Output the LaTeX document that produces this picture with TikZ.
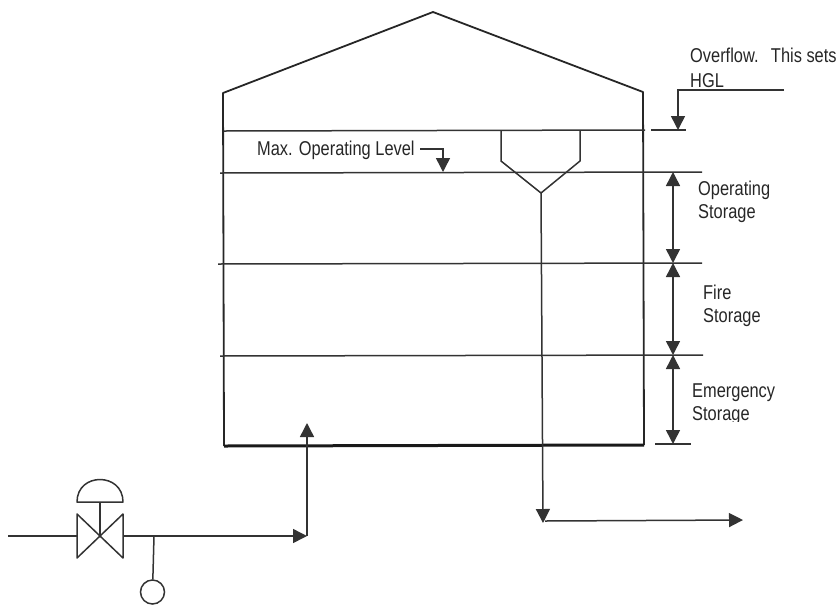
\documentclass[tikz,border=0pt]{standalone}
\usepackage{fontspec}
\usepackage{tikz}
\usetikzlibrary{arrows.meta, positioning, calc}
\setmainfont[FakeStretch=0.82]{Liberation Sans}

\begin{document}
\begin{tikzpicture}[x=1pt, y=-1pt,
    pipe/.style={line width=1.5pt, black!80},
    flow/.style={pipe, -{Triangle[length=14pt, width=14pt]}},
    dimline/.style={pipe, {Triangle[length=14pt, width=14pt]}-{Triangle[length=14pt, width=14pt]}},
    lab/.style={anchor=base west, inner sep=0pt, align=left, text=black!85, font=\fontsize{20}{20}\selectfont}]
    \useasboundingbox (0,0) rectangle (838,606);

    % Tank outline
    \draw[line width=1.8pt, black!85, line join=round] (224,446) -- (223,93) -- (433,12) -- (643,92) -- (644,445);
    \draw[line width=3pt, black!90] (224,446) -- (644,445);

    % Level lines
    \coordinate (ovfl) at (678,130);
    \coordinate (maxlvl) at (673,172);
    \coordinate (firelvl) at (673,263);
    \coordinate (emerlvl) at (673,355);
    \coordinate (botlvl) at (673,444);
    \draw[pipe] (224,131) -- (645,130);
    \draw[pipe] (651,130) -- (686,130);
    \draw[pipe] (220,173) -- (702,172);
    \draw[pipe] (218,264) -- (702,263);
    \draw[pipe] (220,356) -- (703,355);
    \draw[pipe] (655,444) -- (691,444);

    % Storage arrows
    \draw[dimline] (maxlvl) -- (firelvl);
    \draw[dimline] (firelvl) -- (emerlvl);
    \draw[dimline] (emerlvl) -- (botlvl);

    % Overflow marker
    \coordinate (ovflstart) at (784,90);
    \draw[flow] (ovflstart) -- (678,90) -- (ovfl);

    % Max level marker
    \coordinate (maxstart) at (420,149);
    \coordinate (maxend) at (443,172);
    \draw[flow] (maxstart) -- (443,149) -- (maxend);

    % Overflow funnel and drain
    \coordinate (funnel) at (541,193);
    \coordinate (drain) at (543,523);
    \coordinate (outlet) at (743,520);
    \draw[pipe, line join=round] (501,131) -- (501,161) -- (funnel) -- (580,161) -- (580,131);
    \draw[flow] (funnel) -- (drain);
    \draw[flow] (drain) ++(2,-2) -- (outlet);

    % Inlet line
    \coordinate (inlet) at (8,536);
    \coordinate (vleft) at (77,536);
    \coordinate (vright) at (123,536);
    \coordinate (vmid) at (100,536);
    \coordinate (elbow) at (307,536);
    \coordinate (inflow) at (307,423);
    \coordinate (tee) at (154,536);
    \draw[pipe] (inlet) -- (vleft);
    \draw[flow] (vright) -- (elbow);
    \draw[flow] (elbow) -- (inflow);

    % Valve
    \draw[pipe, line join=round] (77,514) -- (77,558) -- (123,514) -- (123,558) -- cycle;
    \draw[pipe] (vmid) -- (100,502);
    \draw[pipe, line join=round] (77,502) .. controls (77,472) and (123,472) .. (123,502) -- cycle;

    % Sensor
    \node[circle, draw, pipe, minimum size=24pt, inner sep=0pt] (sensor) at (152.5,592) {};
    \draw[pipe] (tee) -- (sensor);

    % Labels
    \node[lab] (ovfltxt) at (690,62) {Overflow.\ \ \,This sets};
    \node[lab] (hgltxt) at (690,87) {HGL};
    \node[lab] (maxtxt) at (257,155) {Max. Operating Level};
    \node[lab] (optxt) at (698,195) {Operating};
    \node[lab] (opstor) at (698,218) {Storage};
    \node[lab] (firetxt) at (703,299) {Fire};
    \node[lab] (firestor) at (703,322) {Storage};
    \node[lab] (emertxt) at (692,397) {Emergency};
    \begin{scope}
      \clip (685,400) rectangle (780,421);
      \node[lab] (emerstor) at (692,420) {Storage};
    \end{scope}
  \end{tikzpicture}
\end{document}
